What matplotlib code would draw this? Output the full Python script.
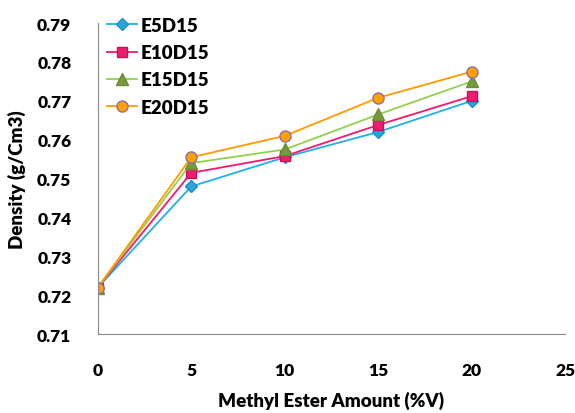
import matplotlib
matplotlib.use("Agg")
import matplotlib.pyplot as plt

# Data
ester_amount = [0, 5, 10, 15, 20]
e5d15 = [0.7220, 0.7480, 0.7555, 0.7620, 0.7700]
e10d15 = [0.7220, 0.7515, 0.7558, 0.7638, 0.7712]
e15d15 = [0.7220, 0.7540, 0.7575, 0.7665, 0.7750]
e20d15 = [0.7220, 0.7555, 0.7610, 0.7708, 0.7775]

x_ticks = [0, 5, 10, 15, 20, 25]
y_ticks = [0.71, 0.72, 0.73, 0.74, 0.75, 0.76, 0.77, 0.78, 0.79]

plt.rcParams['font.family'] = ['Lato', 'DejaVu Sans']
plt.rcParams['font.weight'] = 'heavy'

fig = plt.figure(figsize=(5.75, 4.14), dpi=100)
ax = fig.add_axes([0.170, 0.190, 0.813, 0.752])

ax.plot(ester_amount, e5d15, color='#1FB0EA', lw=1.3, marker='D', ms=6,
        mfc='#2AA5DC', mec='#1C8FC4', label='E5D15')
ax.plot(ester_amount, e10d15, color='#F0196B', lw=1.3, marker='s', ms=7,
        mfc='#EE1C6E', mec='#C0145A', label='E10D15')
ax.plot(ester_amount, e15d15, color='#92D050', lw=1.3, marker='^', ms=8,
        mfc='#789A3D', mec='#6A8A35', label='E15D15')
ax.plot(ester_amount, e20d15, color='#FF9A00', lw=1.3, marker='o', ms=8,
        mfc='#FFA000', mec='#8A72A8', label='E20D15')

ax.set_xlim(0, 25)
ax.set_ylim(0.71, 0.79)
ax.set_xticks(x_ticks)
ax.set_yticks(y_ticks)
ax.set_yticklabels([f"{v:.2f}" for v in y_ticks])

for side in ['top', 'right']:
    ax.spines[side].set_visible(False)
for side in ['left', 'bottom']:
    ax.spines[side].set_color('#888888')
ax.tick_params(length=0, labelsize=12.5)
ax.tick_params(axis='x', pad=20)
ax.tick_params(axis='y', pad=19)
for lbl in ax.get_xticklabels() + ax.get_yticklabels():
    lbl.set_fontweight('heavy')

ax.set_xlabel('Methyl Ester Amount (%V)', fontsize=13.5, fontweight='heavy', labelpad=9)
ax.set_ylabel('Density (g/Cm3)', fontsize=13.5, fontweight='heavy', labelpad=8)

leg = ax.legend(loc='upper left', frameon=False, fontsize=13.5, handlelength=1.6,
                handletextpad=0.2, labelspacing=0.55, borderaxespad=0.1,
                bbox_to_anchor=(0.0, 1.05))
for t in leg.get_texts():
    t.set_fontweight('heavy')

fig.savefig('out.png', dpi=100)
